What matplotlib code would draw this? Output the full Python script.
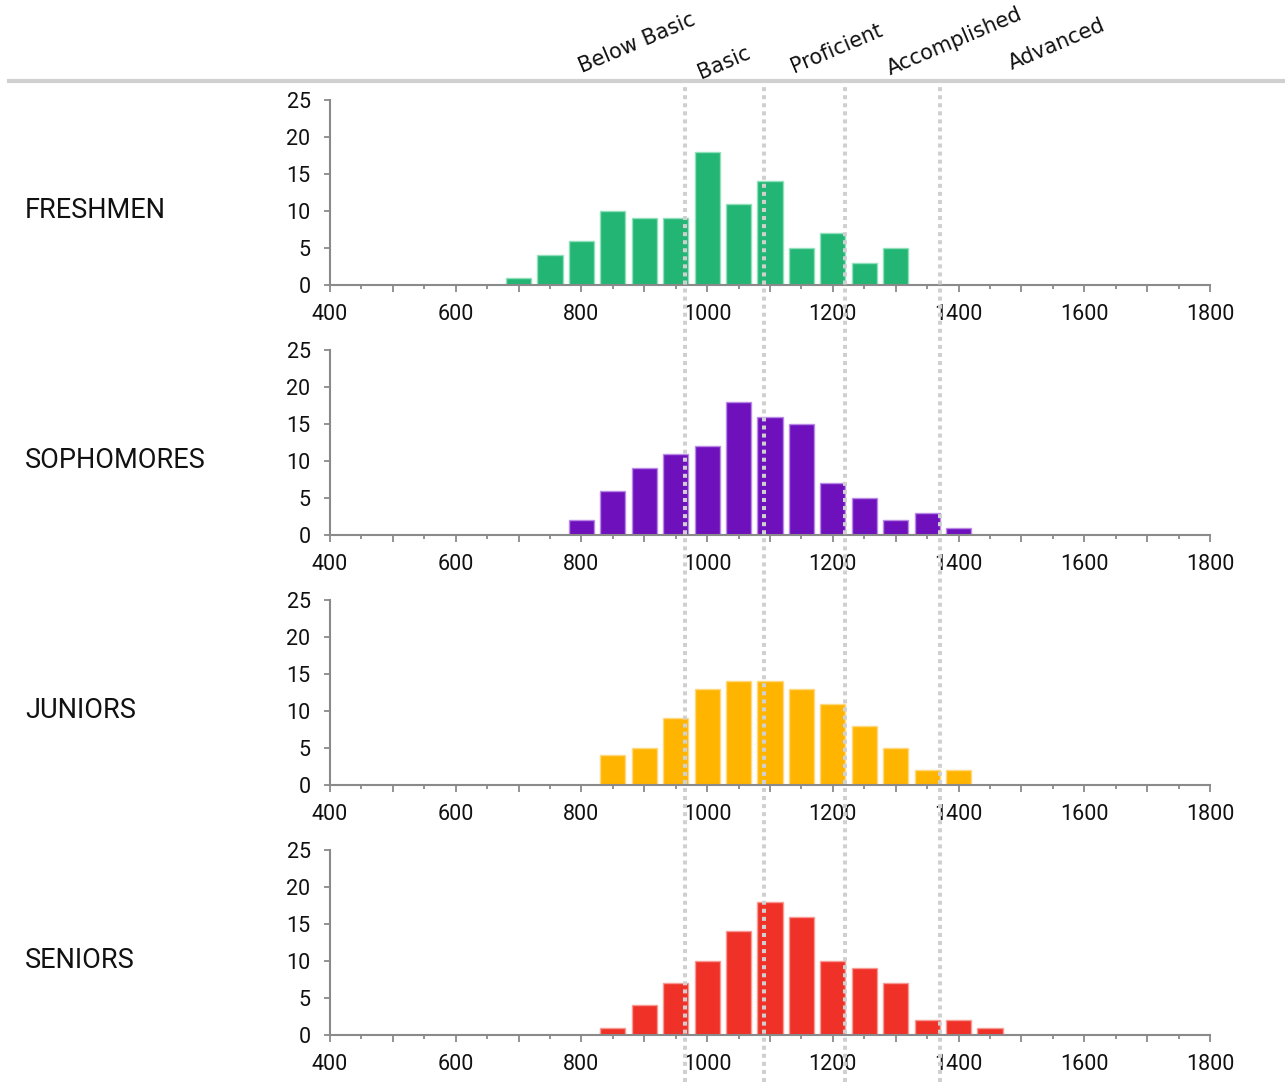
import numpy as np
import matplotlib
matplotlib.use("Agg")
import matplotlib.pyplot as plt
from matplotlib import transforms
from matplotlib.ticker import MultipleLocator, FuncFormatter

plt.rcParams["font.family"] = ["Roboto", "DejaVu Sans"]

# score bins (bar centres) and counts per class
freshmen_x = [700, 750, 800, 850, 900, 950, 1000, 1050, 1100, 1150, 1200, 1250, 1300]
freshmen_n = [1, 4, 6, 10, 9, 9, 18, 11, 14, 5, 7, 3, 5]

sophomores_x = [800, 850, 900, 950, 1000, 1050, 1100, 1150, 1200, 1250, 1300, 1350, 1400]
sophomores_n = [2, 6, 9, 11, 12, 18, 16, 15, 7, 5, 2, 3, 1]

juniors_x = [850, 900, 950, 1000, 1050, 1100, 1150, 1200, 1250, 1300, 1350, 1400]
juniors_n = [4, 5, 9, 13, 14, 14, 13, 11, 8, 5, 2, 2]

seniors_x = [850, 900, 950, 1000, 1050, 1100, 1150, 1200, 1250, 1300, 1350, 1400, 1450]
seniors_n = [1, 4, 7, 10, 14, 18, 16, 10, 9, 7, 2, 2, 1]

groups = ["FRESHMEN", "SOPHOMORES", "JUNIORS", "SENIORS"]
colors = ["#23b573", "#6f10bd", "#ffb400", "#ef3127"]
edges = ["#8fe0bb", "#b88ae6", "#ffd980", "#f79a94"]

# performance level cut scores and labels
cut_scores = [965, 1090, 1220, 1370]
levels = ["Below Basic", "Basic", "Proficient", "Accomplished", "Advanced"]
level_pos = [(582, 73), (701, 79), (794, 73), (890, 75), (1012, 70)]  # pixel anchors

W, H = 1285, 1082
fig = plt.figure(figsize=(W / 100, H / 100), dpi=100)

data = [(freshmen_x, freshmen_n), (sophomores_x, sophomores_n),
        (juniors_x, juniors_n), (seniors_x, seniors_n)]

axes = []
for i, (xs, ns) in enumerate(data):
    bottom_px = 285 + 250 * i
    ax = fig.add_axes([330 / W, 1 - bottom_px / H, 880 / W, 185 / H])
    ax.patch.set_alpha(0)
    ax.bar(xs, ns, width=40, color=colors[i], edgecolor=edges[i], linewidth=1.0, zorder=2)
    ax.set_xlim(400, 1800)
    ax.set_ylim(0, 25)
    ax.set_yticks([0, 5, 10, 15, 20, 25])
    ax.xaxis.set_major_locator(MultipleLocator(100))
    ax.xaxis.set_minor_locator(MultipleLocator(50))
    ax.xaxis.set_major_formatter(FuncFormatter(lambda v, p: f"{int(v)}" if int(v) % 200 == 0 else ""))
    for s in ["top", "right"]:
        ax.spines[s].set_visible(False)
    for s in ["left", "bottom"]:
        ax.spines[s].set_color("#8a8a8a")
        ax.spines[s].set_linewidth(1.5)
    ax.tick_params(axis="x", which="major", length=5, width=1.3, color="#8a8a8a",
                   labelsize=15.5, pad=9, labelcolor="#111111")
    ax.tick_params(axis="x", which="minor", length=3, width=1.3, color="#8a8a8a")
    ax.tick_params(axis="y", length=4, width=1.3, color="#8a8a8a",
                   labelsize=15.5, pad=10, labelcolor="#111111")
    fig.text(25 / W, 1 - (bottom_px - 75) / H, groups[i], fontsize=19.5,
             ha="left", va="center", color="#111111")
    axes.append(ax)

# dotted cut-score lines spanning all panels
last = axes[-1]
trans = transforms.blended_transform_factory(last.transData, fig.transFigure)
for c in cut_scores:
    last.plot([c, c], [0.0, 1 - 84 / H], transform=trans, clip_on=False,
              color="#d0d0d0", lw=2.9, linestyle=(0, (1, 1)),
              dash_capstyle="butt", zorder=10)

# header rule and level labels
fig.add_artist(plt.Line2D([9 / W, 1.0], [1 - 81 / H, 1 - 81 / H],
                          transform=fig.transFigure, color="#d0d0d0", lw=3))
for lab, (px, py) in zip(levels, level_pos):
    fig.text(px / W, 1 - py / H, lab, fontsize=15, rotation=23,
             rotation_mode="anchor", ha="left", va="baseline",
             family=["DejaVu Sans"], color="#111111")

fig.savefig("out.png", dpi=100)
